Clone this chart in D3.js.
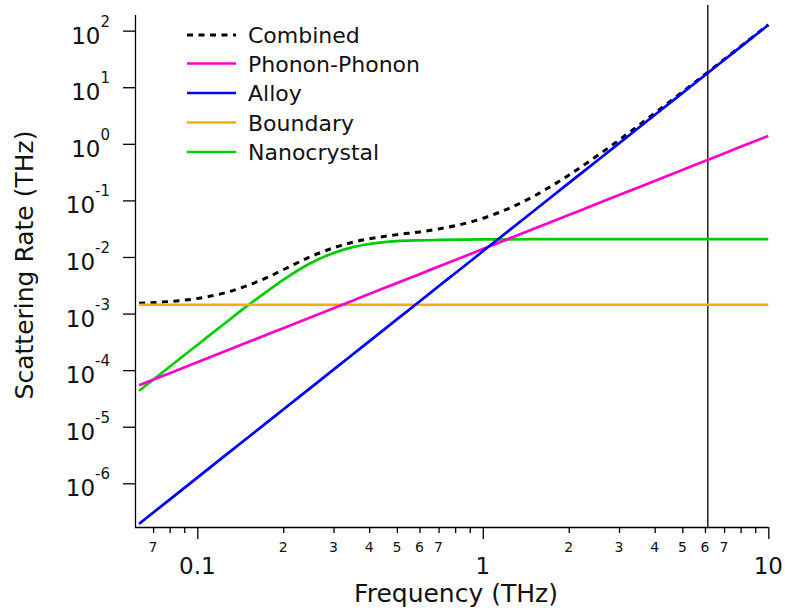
<!DOCTYPE html>
<html>
<head>
<meta charset="utf-8">
<script src="https://cdn.jsdelivr.net/npm/d3@7"></script>
<style>
  html, body { margin: 0; padding: 0; background: #fff; }
  svg { display: block; font-family: "DejaVu Sans", sans-serif; }
</style>
</head>
<body>
<svg id="chart" width="785" height="613"></svg>
<script>
// Frequency samples (THz) shared by every series
const freq = [0.0625, 0.08, 0.1, 0.125, 0.15, 0.175, 0.2, 0.25, 0.3, 0.35, 0.4, 0.5, 0.6, 0.7, 0.8,
              1, 1.25, 1.5, 2, 2.5, 3, 4, 5, 6, 7, 8, 10];

// Scattering rates (THz) for each mechanism
const phononPhonon = [5.39e-5, 8.83e-5, 1.38e-4, 2.16e-4, 3.11e-4, 4.23e-4, 5.52e-4, 8.63e-4, 1.24e-3, 1.69e-3,
                      2.21e-3, 3.45e-3, 4.97e-3, 6.76e-3, 8.83e-3, 0.0138, 0.0216, 0.0311, 0.0552, 0.0863,
                      0.124, 0.221, 0.345, 0.497, 0.676, 0.883, 1.38];
const alloy = [1.92e-7, 5.16e-7, 1.26e-6, 3.08e-6, 6.38e-6, 1.18e-5, 2.02e-5, 4.92e-5, 1.02e-4, 1.89e-4,
               3.23e-4, 7.88e-4, 1.63e-3, 3.03e-3, 5.16e-3, 0.0126, 0.0308, 0.0638, 0.202, 0.492,
               1.02, 3.23, 7.88, 16.3, 30.3, 51.6, 126];
const boundary = [1.43e-3, 1.43e-3, 1.43e-3, 1.43e-3, 1.43e-3, 1.43e-3, 1.43e-3, 1.43e-3, 1.43e-3, 1.43e-3,
                  1.43e-3, 1.43e-3, 1.43e-3, 1.43e-3, 1.43e-3, 1.43e-3, 1.43e-3, 1.43e-3, 1.43e-3, 1.43e-3,
                  1.43e-3, 1.43e-3, 1.43e-3, 1.43e-3, 1.43e-3, 1.43e-3, 1.43e-3];
const nanocrystal = [4.3e-5, 1.15e-4, 2.78e-4, 6.75e-4, 1.38e-3, 2.44e-3, 3.95e-3, 7.85e-3, 0.01172, 0.0149,
                     0.01695, 0.0191, 0.0197, 0.0200, 0.0202, 0.0204, 0.0205, 0.0206, 0.0206, 0.0206,
                     0.0206, 0.0206, 0.0206, 0.0206, 0.0206, 0.0206, 0.0206];
const combined = [1.527e-3, 1.634e-3, 1.847e-3, 2.324e-3, 3.127e-3, 4.305e-3, 5.952e-3, 0.01019, 0.01449, 0.01821,
                  0.02091, 0.02477, 0.02773, 0.03122, 0.03559, 0.04823, 0.07433, 0.1169, 0.2792, 0.6003,
                  1.166, 3.473, 8.247, 16.82, 31.0, 52.5, 127.4];

// Legend labels and colours
const seriesNames = ["Combined", "Phonon-Phonon", "Alloy", "Boundary", "Nanocrystal"];
const seriesColors = ["#000000", "#ff00cc", "#0000ff", "#ffaa00", "#00cc00"];

// Axis ticks
const yTickExponents = [-6, -5, -4, -3, -2, -1, 0, 1, 2];
const xMajorTicks = [0.1, 1, 10];
const xMinorTicks = [0.07, 0.08, 0.09, 0.2, 0.3, 0.4, 0.5, 0.6, 0.7, 0.8, 0.9,
                     2, 3, 4, 5, 6, 7, 8, 9];
const xMinorLabels = ["7", "", "", "2", "3", "4", "5", "6", "7", "", "",
                      "2", "3", "4", "5", "6", "7", "", ""];
const markerFreq = 6.14;

const xDomain = [0.0605, 10];
const yDomain = [1.69e-7, 189];

const svg = d3.select("#chart");
const plotLeft = 135, plotRight = 768.3, plotTop = 15, plotBottom = 527;

const x = d3.scaleLog().domain(xDomain).range([plotLeft, plotRight]);
const y = d3.scaleLog().domain(yDomain).range([plotBottom, plotTop]);

// Y axis: decade ticks, labels drawn as 10 with superscript exponent
const yAxis = d3.axisLeft(y)
  .tickValues(yTickExponents.map(e => Math.pow(10, e)))
  .tickSize(12)
  .tickFormat("");
const gy = svg.append("g").attr("transform", `translate(${plotLeft},0)`).call(yAxis);
gy.select(".domain").attr("stroke", "#000").attr("stroke-width", 1.3).attr("d", `M0.5,${plotTop}V${plotBottom}`);
gy.selectAll(".tick line").attr("stroke", "#000").attr("stroke-width", 1.3);

const yLabels = svg.append("g").attr("font-size", 23).attr("fill", "#111");
yTickExponents.forEach(e => {
  const t = yLabels.append("text")
    .attr("x", 110)
    .attr("y", y(Math.pow(10, e)) + 13)
    .attr("text-anchor", "end");
  t.append("tspan").text("10");
  t.append("tspan").attr("font-size", 15).attr("dy", -17).text(String(e));
});

// X axis: major decade ticks and labelled minor ticks
const xAxisMajor = d3.axisBottom(x).tickValues(xMajorTicks).tickSize(12).tickFormat("");
const gx = svg.append("g").attr("transform", `translate(0,${plotBottom})`).call(xAxisMajor);
gx.select(".domain").attr("stroke", "#000").attr("stroke-width", 1.3).attr("d", `M${plotLeft},0.5H${plotRight}`);
gx.selectAll(".tick line").attr("stroke", "#000").attr("stroke-width", 1.3);

const xAxisMinor = d3.axisBottom(x).tickValues(xMinorTicks).tickSize(6).tickFormat("");
const gxm = svg.append("g").attr("transform", `translate(0,${plotBottom})`).call(xAxisMinor);
gxm.select(".domain").remove();
gxm.selectAll(".tick line").attr("stroke", "#000").attr("stroke-width", 1.3);

svg.append("g").attr("font-size", 14).attr("fill", "#111").attr("text-anchor", "middle")
  .selectAll("text").data(xMinorTicks.map((v, i) => [v, xMinorLabels[i]]).filter(d => d[1] !== ""))
  .join("text")
  .attr("x", d => x(d[0]))
  .attr("y", 552)
  .text(d => d[1]);

svg.append("g").attr("font-size", 23).attr("fill", "#111").attr("text-anchor", "middle")
  .selectAll("text").data(xMajorTicks)
  .join("text")
  .attr("x", d => x(d))
  .attr("y", 574)
  .text(d => d3.format("~g")(d));

// Axis titles
svg.append("text")
  .attr("x", 456).attr("y", 602)
  .attr("text-anchor", "middle")
  .attr("font-size", 25).attr("fill", "#111")
  .text("Frequency (THz)");
svg.append("text")
  .attr("transform", "translate(33,265) rotate(-90)")
  .attr("text-anchor", "middle")
  .attr("font-size", 25).attr("fill", "#111")
  .text("Scattering Rate (THz)");

// Vertical marker line
svg.append("line")
  .attr("x1", x(markerFreq)).attr("x2", x(markerFreq))
  .attr("y1", 5).attr("y2", plotBottom)
  .attr("stroke", "#000").attr("stroke-width", 1.3);

// Curves
const line = d3.line().x(d => x(d[0])).y(d => y(d[1])).curve(d3.curveMonotoneX);
const seriesValues = [combined, phononPhonon, alloy, boundary, nanocrystal];
const drawOrder = [0, 4, 3, 1, 2];
drawOrder.forEach(i => {
  const pts = freq.map((f, k) => [f, seriesValues[i][k]]);
  svg.append("path")
    .attr("d", line(pts))
    .attr("fill", "none")
    .attr("stroke", seriesColors[i])
    .attr("stroke-width", i === 0 ? 3 : 2.7)
    .attr("stroke-dasharray", i === 0 ? "6,5.5" : null);
});

// Legend
const legendRowY = [35, 63.5, 93, 122.5, 152];
const legend = svg.append("g");
seriesNames.forEach((name, i) => {
  const ly = legendRowY[i];
  legend.append("line")
    .attr("x1", 187).attr("x2", 236)
    .attr("y1", ly).attr("y2", ly)
    .attr("stroke", seriesColors[i])
    .attr("stroke-width", i === 0 ? 3 : 2.7)
    .attr("stroke-dasharray", i === 0 ? "6,5.5" : null);
  legend.append("text")
    .attr("x", 248).attr("y", ly + 8)
    .attr("font-size", 22).attr("fill", "#111")
    .text(name);
});
</script>
</body>
</html>
